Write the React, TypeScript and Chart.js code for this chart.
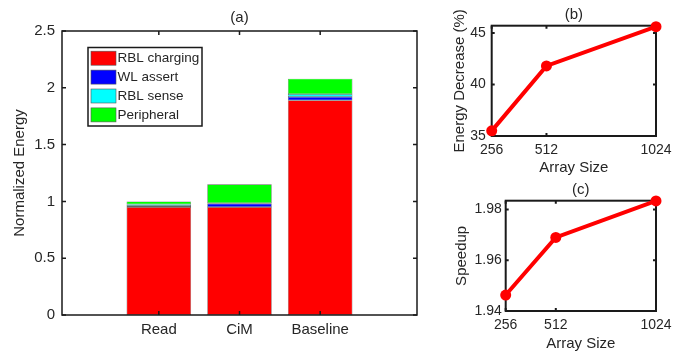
import React, { useEffect, useRef } from 'react';
import { Chart, registerables } from 'chart.js';
Chart.register(...registerables);

// ---- data ----
const categories = ['Read', 'CiM', 'Baseline'];
const categoryPositions = [1, 2, 3];
const rblCharging = [0.95, 0.95, 1.89];
const wlAssert = [0.01, 0.03, 0.03];
const rblSense = [0.015, 0.005, 0.025];
const peripheral = [0.025, 0.165, 0.135];
const energyTicks = [0, 0.5, 1, 1.5, 2, 2.5];
const seriesNames = ['RBL charging', 'WL assert', 'RBL sense', 'Peripheral'];
const seriesColors = ['#ff0000', '#0000ff', '#00ffff', '#00ff00'];

const arraySizes = [256, 512, 1024];
const energyDecrease = [35.5, 41.8, 45.6];
const speedup = [1.9463, 1.969, 1.9834];
const decreaseTicks = [35, 40, 45];
const speedupTicks = [1.94, 1.96, 1.98];

const FONT = "'Liberation Sans', Arial, sans-serif";
const TEXT = '#262626';

// ---- plugins ----
const framePlugin = {
  id: 'frame',
  draw(chart: any, opts: any) {
    const { ctx, chartArea } = chart;
    const { left, right, top, bottom } = chartArea;
    const len = opts.tickLen ?? 4;
    ctx.save();
    ctx.strokeStyle = '#1a1a1a';
    ctx.lineWidth = opts.lineWidth ?? 1.5;
    ctx.beginPath();
    const xs = chart.scales.x;
    const ys = chart.scales.y;
    xs.ticks.forEach((t: any) => {
      const px = xs.getPixelForValue(t.value);
      ctx.moveTo(px, bottom);
      ctx.lineTo(px, bottom - len);
      ctx.moveTo(px, top);
      ctx.lineTo(px, top + len);
    });
    ys.ticks.forEach((t: any) => {
      const py = ys.getPixelForValue(t.value);
      ctx.moveTo(left, py);
      ctx.lineTo(left + len, py);
      ctx.moveTo(right, py);
      ctx.lineTo(right - len, py);
    });
    ctx.stroke();
    ctx.strokeRect(left, top, right - left, bottom - top);
    ctx.restore();
  },
  beforeDatasetsDraw(chart: any, _a: any, opts: any) {
    if (!opts.after) this.draw(chart, opts);
  },
  afterDatasetsDraw(chart: any, _a: any, opts: any) {
    if (opts.after) this.draw(chart, opts);
  },
};

const panelTitlePlugin = {
  id: 'panelTitle',
  afterDraw(chart: any, _a: any, opts: any) {
    const { ctx, chartArea } = chart;
    ctx.save();
    ctx.fillStyle = TEXT;
    ctx.font = `${opts.size ?? 15}px ${FONT}`;
    ctx.textAlign = 'center';
    ctx.textBaseline = 'middle';
    ctx.fillText(opts.text, (chartArea.left + chartArea.right) / 2, opts.y);
    ctx.restore();
  },
};

const boxLegendPlugin = {
  id: 'boxLegend',
  afterDraw(chart: any, _a: any, opts: any) {
    const { ctx, chartArea } = chart;
    const bx = chartArea.left + opts.dx;
    const by = chartArea.top + opts.dy;
    ctx.save();
    ctx.fillStyle = '#ffffff';
    ctx.fillRect(bx, by, opts.w, opts.h);
    ctx.strokeStyle = '#1a1a1a';
    ctx.lineWidth = 1.5;
    ctx.strokeRect(bx, by, opts.w, opts.h);
    ctx.font = `13.5px ${FONT}`;
    ctx.textBaseline = 'middle';
    ctx.textAlign = 'left';
    chart.data.datasets.forEach((ds: any, i: number) => {
      const cy = by + 10.7 + i * 18.9;
      ctx.fillStyle = ds.backgroundColor;
      ctx.fillRect(bx + 3, cy - 7, 25, 14);
      ctx.strokeStyle = '#555';
      ctx.lineWidth = 0.6;
      ctx.strokeRect(bx + 3, cy - 7, 25, 14);
      ctx.fillStyle = TEXT;
      ctx.fillText(ds.label, bx + 29.5, cy + 0.5);
    });
    ctx.restore();
  },
};

function fixedTicks(values: number[]) {
  return (scale: any) => {
    scale.ticks = values.map((v) => ({ value: v }));
  };
}

// ---- panel (a) ----
function EnergyBars() {
  const ref = useRef<HTMLCanvasElement>(null);
  useEffect(() => {
    const datasets = [rblCharging, wlAssert, rblSense, peripheral].map((vals, i) => ({
      label: seriesNames[i],
      data: vals.map((v, j) => ({ x: categoryPositions[j], y: v })),
      backgroundColor: seriesColors[i],
      borderColor: 'rgba(60,60,60,0.8)',
      borderWidth: 0.6,
      borderSkipped: false,
      barPercentage: 0.8,
      categoryPercentage: 1,
    }));
    const chart = new Chart(ref.current!, {
      type: 'bar',
      data: { datasets },
      plugins: [framePlugin, panelTitlePlugin, boxLegendPlugin],
      options: {
        animation: false,
        responsive: false,
        devicePixelRatio: 1,
        layout: { padding: { left: 0, top: 31, right: 13, bottom: 0 } },
        scales: {
          x: {
            type: 'linear',
            stacked: true,
            offset: false,
            min: -0.2,
            max: 4.2,
            afterBuildTicks: fixedTicks(categoryPositions),
            afterFit: (s: any) => { s.height = 41; },
            grid: { display: false, drawTicks: false, offset: false },
            border: { display: false },
            ticks: {
              autoSkip: false,
              maxRotation: 0,
              padding: 6,
              color: TEXT,
              font: { family: FONT, size: 15 },
              callback: (v: any) => categories[categoryPositions.indexOf(Number(v))] ?? '',
            },
          },
          y: {
            stacked: true,
            min: 0,
            max: 2.5,
            afterBuildTicks: fixedTicks(energyTicks),
            afterFit: (s: any) => { s.width = 62; },
            grid: { display: false, drawTicks: false },
            border: { display: false },
            ticks: {
              padding: 7,
              color: TEXT,
              font: { family: FONT, size: 15 },
              callback: (v: any) => String(v),
            },
            title: {
              display: true,
              text: 'Normalized Energy',
              color: TEXT,
              font: { family: FONT, size: 15 },
              padding: { top: 11, bottom: 0 },
            },
          },
        },
        plugins: {
          legend: { display: false },
          tooltip: { enabled: false },
          frame: { after: true, tickLen: 4, lineWidth: 1.5 },
          panelTitle: { text: '(a)', y: 18, size: 15 },
          boxLegend: { dx: 26, dy: 16.5, w: 114, h: 78.5 },
        } as any,
      },
    });
    return () => chart.destroy();
  }, []);
  return <canvas ref={ref} width={430} height={356} style={{ width: 430, height: 356, display: 'block' }} />;
}

// ---- panels (b), (c) ----
type LineProps = {
  values: number[];
  yMin: number;
  yMax: number;
  yTicks: number[];
  yDecimals: number;
  yTitle: string;
  yTitlePad: number;
  yWidth: number;
  yTickPad: number;
  padTop: number;
  xHeight: number;
  xTitlePad: number;
  title: string;
  titleY: number;
};

function SizeLine(p: LineProps) {
  const ref = useRef<HTMLCanvasElement>(null);
  useEffect(() => {
    const chart = new Chart(ref.current!, {
      type: 'line',
      data: {
        datasets: [
          {
            data: arraySizes.map((s, i) => ({ x: s, y: p.values[i] })),
            borderColor: '#ff0000',
            backgroundColor: '#ff0000',
            borderWidth: 4,
            pointRadius: 5.5,
            pointBorderWidth: 0,
            pointBackgroundColor: '#ff0000',
            tension: 0,
            clip: false as any,
          },
        ],
      },
      plugins: [framePlugin, panelTitlePlugin],
      options: {
        animation: false,
        responsive: false,
        devicePixelRatio: 1,
        layout: { padding: { left: 0, top: p.padTop, right: 32, bottom: 0 } },
        scales: {
          x: {
            type: 'linear',
            offset: false,
            min: 256,
            max: 1024,
            afterBuildTicks: fixedTicks(arraySizes),
            afterFit: (s: any) => { s.height = p.xHeight; },
            grid: { display: false, drawTicks: false },
            border: { display: false },
            ticks: {
              autoSkip: false,
              maxRotation: 0,
              padding: 6,
              color: TEXT,
              font: { family: FONT, size: 14 },
              callback: (v: any) => String(v),
            },
            title: {
              display: true,
              text: 'Array Size',
              color: TEXT,
              font: { family: FONT, size: 15 },
              padding: { top: 0, bottom: p.xTitlePad },
            },
          },
          y: {
            type: 'linear',
            min: p.yMin,
            max: p.yMax,
            afterBuildTicks: fixedTicks(p.yTicks),
            afterFit: (s: any) => { s.width = p.yWidth; },
            grid: { display: false, drawTicks: false },
            border: { display: false },
            ticks: {
              padding: p.yTickPad,
              color: TEXT,
              font: { family: FONT, size: 14 },
              callback: (v: any) => Number(v).toFixed(p.yDecimals),
            },
            title: {
              display: true,
              text: p.yTitle,
              color: TEXT,
              font: { family: FONT, size: 15 },
              padding: { top: p.yTitlePad, bottom: 0 },
            },
          },
        },
        plugins: {
          legend: { display: false },
          tooltip: { enabled: false },
          frame: { after: false, tickLen: 3, lineWidth: 2 },
          panelTitle: { text: p.title, y: p.titleY, size: 15 },
        } as any,
      },
    });
    return () => chart.destroy();
  }, []);
  return <canvas ref={ref} width={258} height={178} style={{ width: 258, height: 178, display: 'block' }} />;
}

export default function App() {
  return (
    <div style={{ position: 'absolute', left: 0, top: 0, width: 688, height: 356, background: '#fff', overflow: 'hidden' }}>
      <div style={{ position: 'absolute', left: 0, top: 0 }}>
        <EnergyBars />
      </div>
      <div style={{ position: 'absolute', left: 430, top: 0 }}>
        <SizeLine
          values={energyDecrease}
          yMin={35}
          yMax={45.7}
          yTicks={decreaseTicks}
          yDecimals={0}
          yTitle="Energy Decrease (%)"
          yTitlePad={21}
          yWidth={61.7}
          yTickPad={6}
          padTop={25.7}
          xHeight={42}
          xTitlePad={1}
          title="(b)"
          titleY={15}
        />
      </div>
      <div style={{ position: 'absolute', left: 430, top: 178 }}>
        <SizeLine
          values={speedup}
          yMin={1.94}
          yMax={1.9835}
          yTicks={speedupTicks}
          yDecimals={2}
          yTitle="Speedup"
          yTitlePad={22.7}
          yWidth={75.7}
          yTickPad={4}
          padTop={22.7}
          xHeight={45}
          xTitlePad={3}
          title="(c)"
          titleY={12}
        />
      </div>
    </div>
  );
}
